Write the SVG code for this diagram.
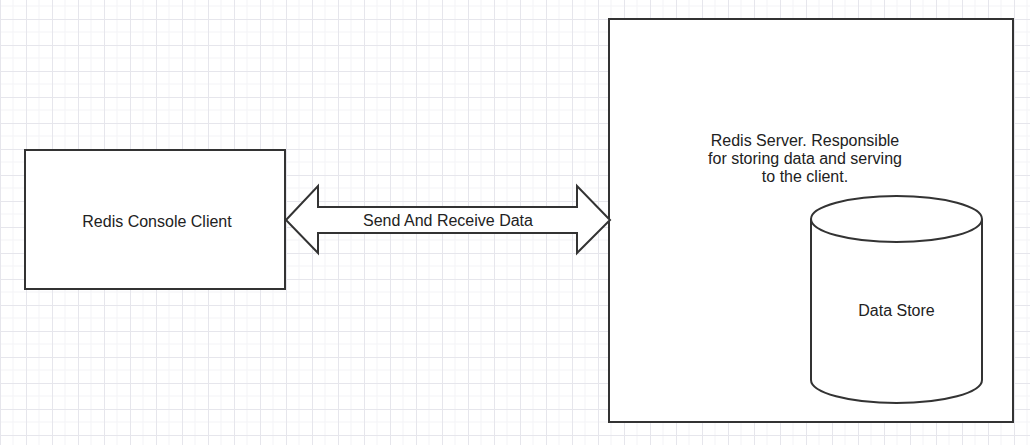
<svg xmlns="http://www.w3.org/2000/svg" width="1030" height="445" viewBox="0 0 1030 445">
<style>
.shape{fill:#ffffff;stroke:#333333;stroke-width:2}
.lbl{font-family:"Liberation Sans",Arial,sans-serif;font-size:16px;fill:#222222;text-anchor:middle}
</style>
<defs>
<pattern id="grid" x="0" y="-7" width="26" height="26" patternUnits="userSpaceOnUse">
<path d="M13 0V26M0 13H26" stroke="#f3f3f6" stroke-width="1" fill="none"/>
<path d="M0.5 0V26M0 0.5H26" stroke="#e6e6ec" stroke-width="1" fill="none"/>
</pattern>
</defs>
<rect x="0" y="0" width="1030" height="445" fill="#ffffff"/>
<rect x="0" y="0" width="1030" height="445" fill="url(#grid)"/>
<g id="client">
<rect class="shape" x="25" y="150" width="260" height="139"/>
<text class="lbl" x="157" y="227">Redis Console Client</text>
</g>
<g id="server">
<rect class="shape" x="609" y="19" width="404" height="403" stroke-width="2.5"/>
<text class="lbl"><tspan x="805" y="146">Redis Server. Responsible</tspan><tspan x="805" y="164">for storing data and serving</tspan><tspan x="805" y="182">to the client.</tspan></text>
</g>
<g id="datastore">
<path class="shape" d="M811 219V380A85.5 23 0 0 0 982 380V219A85.5 23 0 0 0 811 219Z"/>
<path d="M811 219A85.5 23 0 0 0 982 219" fill="none" stroke="#333333" stroke-width="2"/>
<text class="lbl" x="896.5" y="316">Data Store</text>
</g>
<g id="connectors">
<path class="shape" d="M286 220L318 186V207H577V186L610 220L577 253V233H318V253Z"/>
<text class="lbl" x="448" y="226">Send And Receive Data</text>
</g>
</svg>
